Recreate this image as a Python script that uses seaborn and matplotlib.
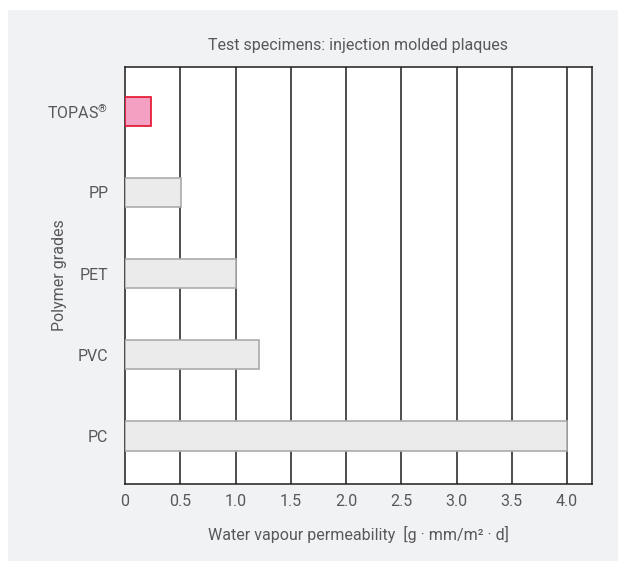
import matplotlib
matplotlib.use("Agg")
import matplotlib.pyplot as plt
import matplotlib.patches as mpatches
import seaborn as sns
import pandas as pd

categories = ["TOPAS$^{®}$", "PP", "PET", "PVC", "PC"]
values = [0.233, 0.51, 1.0, 1.21, 4.0]
xticks = [0, 0.5, 1.0, 1.5, 2.0, 2.5, 3.0, 3.5, 4.0]
xtick_labels = ["0", "0.5", "1.0", "1.5", "2.0", "2.5", "3.0", "3.5", "4.0"]
fills = ["#f4a0c2", "#ebebeb", "#ebebeb", "#ebebeb", "#ebebeb"]
edges = ["#e3112b", "#ababab", "#ababab", "#ababab", "#ababab"]

sns.set_theme(style="white")
FONT = ["Roboto", "DejaVu Sans"]
plt.rcParams["font.family"] = FONT
plt.rcParams["mathtext.fontset"] = "custom"
plt.rcParams["mathtext.rm"] = "Roboto"
plt.rcParams["mathtext.default"] = "rm"

TXT = "#58585a"
BG = "#f1f2f4"

fig = plt.figure(figsize=(6.18, 5.61), dpi=100)
fig.patch.set_facecolor("white")
fig.patches.append(mpatches.Rectangle((8 / 618, 0), 1, (561 - 10) / 561,
                                      transform=fig.transFigure, facecolor=BG,
                                      edgecolor="none", zorder=-10))
ax = fig.add_axes([125 / 618, 1 - 484 / 561, (592 - 125) / 618, (484 - 67) / 561])
ax.set_facecolor("white")

df = pd.DataFrame({"grade": categories, "value": values})
sns.barplot(data=df, x="value", y="grade", hue="grade", palette=fills,
            saturation=1, legend=False, width=0.36, ax=ax, zorder=3)
for p, ec in zip(ax.patches, edges):
    p.set_edgecolor(ec)
    p.set_linewidth(1.2)

ax.set_xlim(0, 4.226)
ax.set_ylim(4.59, -0.545)
ax.set_xticks(xticks)
ax.set_xticklabels(xtick_labels)
for x in xticks[1:]:
    ax.axvline(x, color="#1e1e1e", lw=1.1, zorder=1)
ax.tick_params(axis="both", length=0, labelsize=11.5, colors=TXT)
ax.tick_params(axis="x", pad=7)
ax.tick_params(axis="y", pad=12)
for s in ax.spines.values():
    s.set_visible(True)
    s.set_color("#1e1e1e")
    s.set_linewidth(1.1)

ax.set_xlabel("Water vapour permeability  [g · mm/m² · d]", fontsize=11.5,
              color=TXT)
ax.set_ylabel("Polymer grades", fontsize=11.5, color=TXT)
ax.xaxis.set_label_coords(0.5, -0.1)
ax.yaxis.set_label_coords(-0.125, 0.5)
ax.set_title("Test specimens: injection molded plaques", fontsize=11.5,
             color=TXT, pad=12)

fig.savefig("out.png", dpi=100, facecolor=fig.get_facecolor())
